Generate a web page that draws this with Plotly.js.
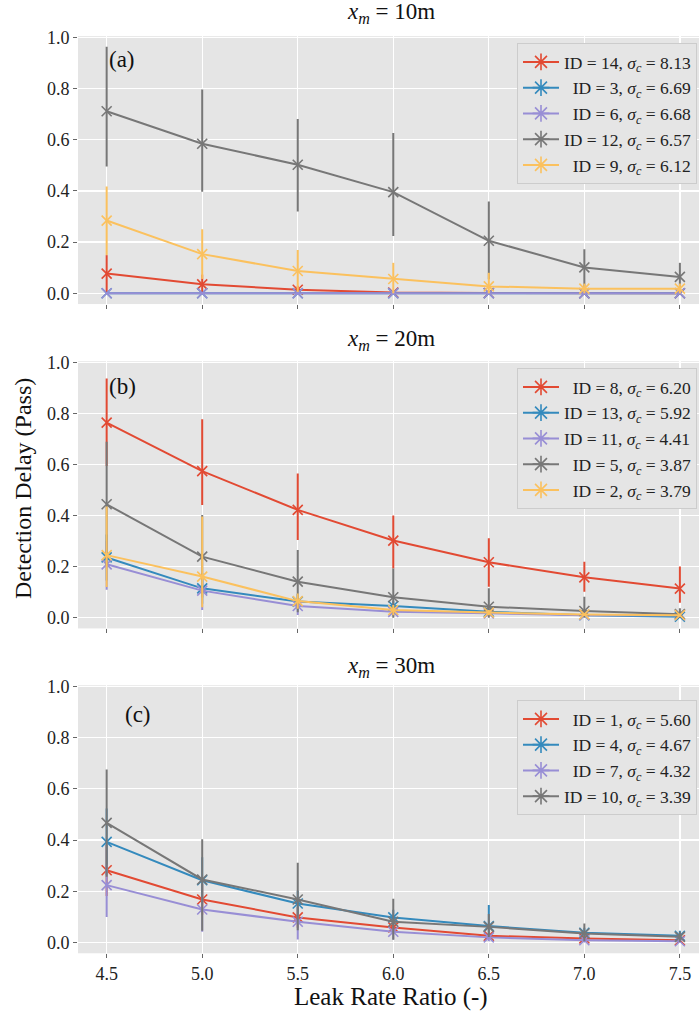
<!DOCTYPE html>
<html>
<head>
<meta charset="utf-8">
<script src="https://cdn.plot.ly/plotly-3.0.1.min.js"></script>
<style>
html,body{margin:0;padding:0;background:#fff;}
#chart{width:699px;height:1013px;}
</style>
</head>
<body>
<div id="chart"></div>
<script>
// ---------------- data ----------------
const leakRatio = [4.5, 5.0, 5.5, 6.0, 6.5, 7.0, 7.5];
const xTickLabels = ["4.5", "5.0", "5.5", "6.0", "6.5", "7.0", "7.5"];
const yTicks = [0.0, 0.2, 0.4, 0.6, 0.8, 1.0];
const panelTitles = ["10m", "20m", "30m"];
const panelLabels = ["(a)", "(b)", "(c)"];

// panel (a) x_m = 10m
const aIDs = [14, 3, 6, 12, 9];
const aSigma = ["8.13", "6.69", "6.68", "6.57", "6.12"];
const a14 = [0.077, 0.035, 0.014, 0.003, 0.001, 0.0, 0.0];
const a14Up = [0.072, 0.038, 0.015, 0.006, 0.003, 0.002, 0.002];
const a14Dn = [0.072, 0.035, 0.014, 0.003, 0.001, 0.0, 0.0];
const a3 = [0, 0, 0, 0, 0, 0, 0];
const a3Up = [0, 0, 0, 0, 0, 0, 0];
const a3Dn = [0, 0, 0, 0, 0, 0, 0];
const a6 = [0, 0, 0, 0, 0, 0, 0];
const a6Up = [0, 0, 0, 0, 0, 0, 0];
const a6Dn = [0, 0, 0, 0, 0, 0, 0];
const a12 = [0.711, 0.584, 0.502, 0.395, 0.205, 0.101, 0.064];
const a12Up = [0.252, 0.212, 0.179, 0.231, 0.153, 0.071, 0.055];
const a12Dn = [0.216, 0.187, 0.183, 0.171, 0.150, 0.076, 0.054];
const a9 = [0.284, 0.153, 0.087, 0.056, 0.027, 0.018, 0.018];
const a9Up = [0.133, 0.097, 0.082, 0.063, 0.053, 0.020, 0.020];
const a9Dn = [0.134, 0.097, 0.082, 0.056, 0.027, 0.018, 0.018];

// panel (b) x_m = 20m
const bIDs = [8, 13, 11, 5, 2];
const bSigma = ["6.20", "5.92", "4.41", "3.87", "3.79"];
const b8 = [0.764, 0.574, 0.422, 0.302, 0.217, 0.158, 0.114];
const b8Up = [0.173, 0.203, 0.143, 0.098, 0.094, 0.061, 0.086];
const b8Dn = [0.170, 0.133, 0.118, 0.109, 0.096, 0.056, 0.055];
const b13 = [0.236, 0.115, 0.063, 0.046, 0.023, 0.010, 0.004];
const b13Up = [0.090, 0.060, 0.030, 0.020, 0.010, 0.005, 0.004];
const b13Dn = [0.090, 0.060, 0.030, 0.020, 0.010, 0.005, 0.004];
const b11 = [0.209, 0.106, 0.046, 0.023, 0.017, 0.010, 0.010];
const b11Up = [0.090, 0.060, 0.030, 0.015, 0.010, 0.005, 0.005];
const b11Dn = [0.100, 0.076, 0.035, 0.015, 0.010, 0.005, 0.005];
const b5 = [0.444, 0.239, 0.141, 0.080, 0.043, 0.026, 0.014];
const b5Up = [0.245, 0.163, 0.124, 0.113, 0.072, 0.056, 0.023];
const b5Dn = [0.240, 0.160, 0.120, 0.080, 0.043, 0.026, 0.014];
const b2 = [0.245, 0.161, 0.065, 0.030, 0.020, 0.013, 0.010];
const b2Up = [0.190, 0.235, 0.030, 0.020, 0.010, 0.005, 0.005];
const b2Dn = [0.125, 0.120, 0.030, 0.020, 0.010, 0.005, 0.005];

// panel (c) x_m = 30m
const cIDs = [1, 4, 7, 10];
const cSigma = ["5.60", "4.67", "4.32", "3.39"];
const c1 = [0.282, 0.168, 0.098, 0.059, 0.026, 0.016, 0.009];
const c1Up = [0.100, 0.060, 0.040, 0.020, 0.010, 0.005, 0.005];
const c1Dn = [0.100, 0.060, 0.040, 0.020, 0.010, 0.005, 0.005];
const c4 = [0.393, 0.243, 0.152, 0.098, 0.064, 0.038, 0.026];
const c4Up = [0.130, 0.090, 0.050, 0.030, 0.082, 0.020, 0.020];
const c4Dn = [0.130, 0.090, 0.050, 0.030, 0.040, 0.020, 0.020];
const c7 = [0.224, 0.129, 0.081, 0.042, 0.020, 0.009, 0.005];
const c7Up = [0.080, 0.050, 0.030, 0.020, 0.010, 0.005, 0.005];
const c7Dn = [0.124, 0.087, 0.069, 0.030, 0.015, 0.009, 0.005];
const c10 = [0.467, 0.246, 0.168, 0.081, 0.061, 0.035, 0.022];
const c10Up = [0.208, 0.157, 0.143, 0.090, 0.050, 0.039, 0.020];
const c10Dn = [0.210, 0.200, 0.120, 0.070, 0.040, 0.030, 0.020];

// ---------------- styling ----------------
const COLORS = ["#E24A33", "#348ABD", "#988ED5", "#777777", "#FBC15E"];
const FONT = "Liberation Serif, Times New Roman, serif";
const W = 699, H = 1013;
const PLOT_L = 78;
const Y_LO = -0.042, Y_HI = 1.004;

// pixel rows of y=1.0 and y=0.0 for each panel
function dom(onePx, zeroPx) {
  const s = zeroPx - onePx;
  const top = onePx - (Y_HI - 1) * s;
  const bot = zeroPx - Y_LO * s;
  return [1 - bot / H, 1 - top / H];
}
const panels = [
  {ids: aIDs, sig: aSigma, ys: [a14, a3, a6, a12, a9], up: [a14Up, a3Up, a6Up, a12Up, a9Up], dn: [a14Dn, a3Dn, a6Dn, a12Dn, a9Dn], one: 37.2, zero: 293.3, titleY: 13, labelX: 107, labelY: 60, legTop: 43},
  {ids: bIDs, sig: bSigma, ys: [b8, b13, b11, b5, b2], up: [b8Up, b13Up, b11Up, b5Up, b2Up], dn: [b8Dn, b13Dn, b11Dn, b5Dn, b2Dn], one: 362.3, zero: 617.7, titleY: 340, labelX: 107, labelY: 386, legTop: 368},
  {ids: cIDs, sig: cSigma, ys: [c1, c4, c7, c10], up: [c1Up, c4Up, c7Up, c10Up], dn: [c1Dn, c4Dn, c7Dn, c10Dn], one: 686.3, zero: 942.5, titleY: 667, labelX: 123, labelY: 714, legTop: 700}
];

const traces = [];
const annotations = [];
const layout = {
  width: W, height: H,
  margin: {l: 0, r: 0, t: 0, b: 0},
  paper_bgcolor: "#ffffff",
  plot_bgcolor: "#E5E5E5",
  font: {family: FONT, color: "#222"},
  showlegend: true,
  annotations: annotations
};

panels.forEach((p, k) => {
  const n = k + 1;
  const xa = "x" + (n === 1 ? "" : n), ya = "y" + (n === 1 ? "" : n);
  const xk = "xaxis" + (n === 1 ? "" : n), yk = "yaxis" + (n === 1 ? "" : n);
  const lg = "legend" + (n === 1 ? "" : n);
  layout[xk] = {
    domain: [PLOT_L / W, 1], anchor: ya, range: [4.35, 7.6],
    tickvals: leakRatio, ticktext: xTickLabels, showticklabels: n === 3,
    ticks: "outside", ticklen: 4, tickcolor: "#666", tickwidth: 1,
    gridcolor: "#ffffff", gridwidth: 1.3, zeroline: false, showline: false,
    tickfont: {family: FONT, size: 18, color: "#222"}, fixedrange: true
  };
  layout[yk] = {
    domain: dom(p.one, p.zero), anchor: xa, range: [Y_LO, Y_HI],
    tickvals: yTicks, tickformat: ".1f",
    ticks: "outside", ticklen: 4, tickcolor: "#666", tickwidth: 1,
    gridcolor: "#ffffff", gridwidth: 1.3, zeroline: false, showline: false,
    tickfont: {family: FONT, size: 18, color: "#222"}, fixedrange: true
  };
  layout[lg] = {
    x: 697 / W, xanchor: "right", y: 1 - p.legTop / H, yanchor: "top",
    bgcolor: "#E5E5E5", bordercolor: "#CCCCCC", borderwidth: 1,
    font: {family: FONT, size: 17.5, color: "#222"}, itemwidth: 36,
    tracegroupgap: 0
  };
  p.ys.forEach((yv, i) => {
    const col = COLORS[i];
    traces.push({
      type: "scatter", mode: "lines+markers", x: leakRatio, y: yv,
      xaxis: xa, yaxis: ya, showlegend: false, legend: lg,
      line: {color: col, width: 2},
      marker: {symbol: "x-thin-open", size: 10, color: col, line: {color: col, width: 1.6}},
      error_y: {type: "data", symmetric: false, array: p.up[i], arrayminus: p.dn[i], color: col, thickness: 2, width: 0}
    });
  });
  p.ys.forEach((yv, i) => {
    const col = COLORS[i];
    // hidden digit keeps single-digit IDs right-aligned like the reference
    const pad = p.ids[i] < 10 ? '<span style="color:#E5E5E5">1</span>' : "";
    traces.push({
      type: "scatter", mode: "lines+markers", x: [null], y: [null],
      xaxis: xa, yaxis: ya, legend: lg, showlegend: true,
      name: pad + "ID = " + p.ids[i] + ", <i>σ</i><sub><i>c</i></sub> = " + p.sig[i],
      line: {color: col, width: 2},
      marker: {symbol: "asterisk-open", size: 14, color: col, line: {color: col, width: 1.6}}
    });
  });
  annotations.push({
    xref: "paper", yref: "paper", x: 391 / W, y: 1 - p.titleY / H,
    xanchor: "center", yanchor: "middle", showarrow: false,
    text: "<i>x</i><sub><i>m</i></sub> = " + panelTitles[k],
    font: {family: FONT, size: 23, color: "#111"}
  });
  annotations.push({
    xref: "paper", yref: "paper", x: p.labelX / W, y: 1 - p.labelY / H,
    xanchor: "left", yanchor: "middle", showarrow: false,
    text: panelLabels[k], font: {family: FONT, size: 23, color: "#111"}
  });
});

annotations.push({
  xref: "paper", yref: "paper", x: 23 / W, y: 1 - 489 / H,
  xanchor: "center", yanchor: "middle", showarrow: false, textangle: -90,
  text: "Detection Delay (Pass)", font: {family: FONT, size: 24, color: "#111"}
});
annotations.push({
  xref: "paper", yref: "paper", x: 391 / W, y: 1 - 997 / H,
  xanchor: "center", yanchor: "middle", showarrow: false,
  text: "Leak Rate Ratio (-)", font: {family: FONT, size: 25, color: "#111"}
});

Plotly.newPlot("chart", traces, layout, {displayModeBar: false, staticPlot: true});
</script>
</body>
</html>
